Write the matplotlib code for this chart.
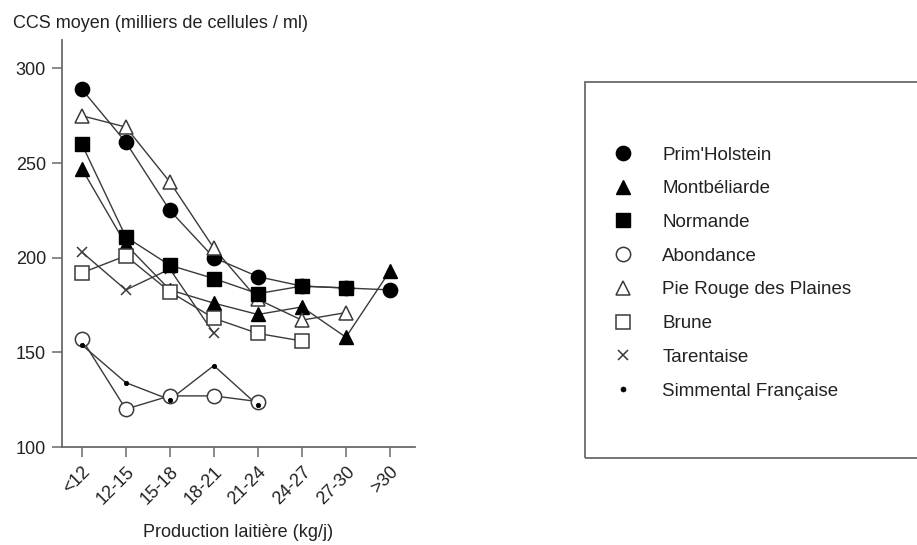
import matplotlib
matplotlib.use("Agg")
import matplotlib.pyplot as plt
from matplotlib.lines import Line2D
from matplotlib.patches import Rectangle

plt.rcParams['font.family'] = ['Liberation Sans', 'DejaVu Sans']

categories = ['<12', '12-15', '15-18', '18-21', '21-24', '24-27', '27-30', '>30']

prim_holstein = [289, 261, 225, 200, 190, 185, 184, 183]
montbeliarde = [247, 207, 183, 176, 170, 174, 158, 193]
normande = [260, 211, 196, 189, 181, 185, 184]
abondance = [157, 120, 127, 127, 124]
pie_rouge = [275, 269, 240, 205, 178, 167, 171]
brune = [192, 201, 182, 168, 160, 156]
tarentaise = [203, 183, 194, 160]
simmental = [154, 134, 125, 143, 122]

series_names = ["Prim'Holstein", "Montbéliarde", "Normande", "Abondance",
                "Pie Rouge des Plaines", "Brune", "Tarentaise", "Simmental Française"]

LINE = '#3a3a3a'
TEXT = '#222222'
styles = {
    "Prim'Holstein": dict(marker='o', ms=10.3, mfc='black', mec='black', mew=1.0),
    "Montbéliarde": dict(marker='^', ms=10.3, mfc='black', mec='black', mew=1.0),
    "Normande": dict(marker='s', ms=9.8, mfc='black', mec='black', mew=1.0),
    "Abondance": dict(marker='o', ms=10.3, mfc='white', mec=LINE, mew=1.1),
    "Pie Rouge des Plaines": dict(marker='^', ms=10.3, mfc='white', mec=LINE, mew=1.1),
    "Brune": dict(marker='s', ms=9.8, mfc='white', mec=LINE, mew=1.1),
    "Tarentaise": dict(marker='x', ms=6.5, mfc='black', mec=LINE, mew=1.1),
    "Simmental Française": dict(marker='o', ms=3.2, mfc='black', mec='black', mew=0.5),
}
data = {
    "Prim'Holstein": prim_holstein,
    "Montbéliarde": montbeliarde,
    "Normande": normande,
    "Abondance": abondance,
    "Pie Rouge des Plaines": pie_rouge,
    "Brune": brune,
    "Tarentaise": tarentaise,
    "Simmental Française": simmental,
}
draw_order = ["Tarentaise", "Abondance", "Simmental Française", "Montbéliarde", "Brune",
              "Prim'Holstein", "Pie Rouge des Plaines", "Normande"]

fig = plt.figure(figsize=(9.17, 5.45), dpi=100)
ax = fig.add_axes([62/917, 1-447/545, 353/917, 407/545])

xs = list(range(len(categories)))
for name in draw_order:
    vals = data[name]
    ax.plot(xs[:len(vals)], vals, color=LINE, lw=1.0, zorder=2)
for i, name in enumerate(draw_order):
    vals = data[name]
    ax.plot(xs[:len(vals)], vals, ls='none', zorder=3 + i, **styles[name])

ax.set_xlim(-0.45, 7.57)
ax.set_ylim(100, 315)
ax.set_yticks([100, 150, 200, 250, 300])
ax.set_xticks(xs)
ax.set_xticklabels(categories, rotation=45, ha='right', va='top',
                   rotation_mode='anchor')
for s in ['top', 'right']:
    ax.spines[s].set_visible(False)
for s in ['left', 'bottom']:
    ax.spines[s].set_color('#6a6a6a')
    ax.spines[s].set_linewidth(1.3)
ax.tick_params(axis='both', direction='out', length=7, width=1.1, color='#6a6a6a',
               labelsize=13, labelcolor=TEXT, pad=4.5)
ax.set_xlabel('Production laitière (kg/j)', fontsize=13, color=TEXT, labelpad=12)

fig.text(13/917, 1-23/545, 'CCS moyen (milliers de cellules / ml)', fontsize=13,
         color=TEXT, ha='left', va='center')

# legend frame
fig.patches.append(Rectangle((585/917, 1-458/545), 340/917, 376/545,
                             transform=fig.transFigure, fill=False,
                             edgecolor='#6a6a6a', lw=1.3))
handles = []
for name in series_names:
    st = dict(styles[name])
    if name == "Simmental Française":
        st['ms'] = 3.6
    handles.append(Line2D([], [], ls='none', **st))
fig.legend(handles, series_names, loc='upper left',
           bbox_to_anchor=(602.75/917, 1-137/545), frameon=False,
           fontsize=13.5, labelspacing=0.885, handlelength=1.2,
           handletextpad=1.48, borderpad=0, labelcolor=TEXT)

fig.savefig('out.png', dpi=100)
